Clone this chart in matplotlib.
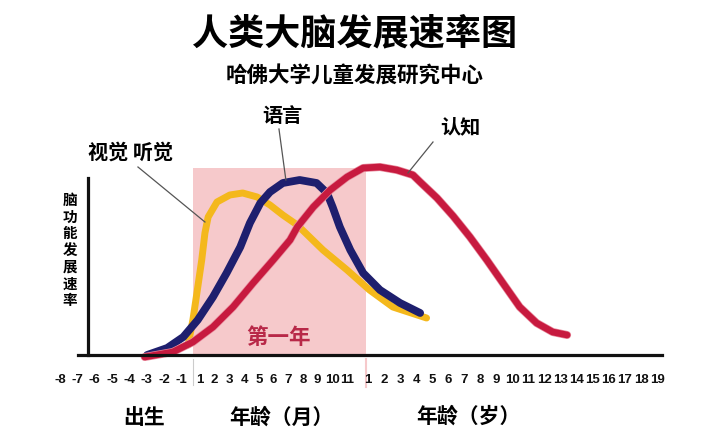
import matplotlib.pyplot as plt
import matplotlib.patheffects as pe
from matplotlib.patches import Rectangle

plt.rcParams['font.family'] = ['Noto Sans CJK SC', 'DejaVu Sans']

# 刻度标签: 孕期(月), 出生后第一年(月), 之后(岁)
prenatal_labels = [-8, -7, -6, -5, -4, -3, -2, -1]
month_labels = list(range(1, 12))
year_labels = list(range(1, 20))

# 曲线数据, x 以"岁"刻度为单位 (第 n 岁在 x=n), y 为发展速率
vision_x = [-10.2, -9.9, -9.65, -9.35, -9.15, -8.95, -8.4, -7.6, -6.8, -5.9,
            -5.1, -4.3, -3.4, -1.8, -0.3, 1.1, 2.55, 4.65]
vision_y = [5, 17.5, 31, 47.5, 61, 69, 76.5, 80, 81, 79,
            75, 70, 65, 52.5, 42.5, 32.5, 24, 18.5]

language_x = [-12.75, -11.5, -10.5, -9.6, -8.65, -7.8, -6.95, -6.35, -5.7, -5.1,
              -4.3, -3.25, -2.2, -1.55, -1.2, -0.75, -0.1, 0.7, 1.75, 3.0, 4.25]
language_y = [0, 3.5, 9, 17.5, 29, 41, 54, 66, 76, 81.5,
              86, 87.5, 86, 81, 74, 64, 52.5, 41, 32.5, 26, 21]

cognition_x = [-12.9, -11.15, -9.9, -8.65, -7.4, -6.15, -4.9, -3.85, -3.4, -2.4,
               -1.35, -0.3, 0.7, 1.75, 2.8, 3.8, 4.25, 5.3, 6.3, 7.35,
               8.4, 9.4, 10.45, 11.5, 12.5, 13.4]
cognition_y = [-1, 1.5, 6.5, 14, 24, 36, 47.5, 57.5, 64, 74,
               82.5, 89, 93.5, 94, 92.5, 90, 86.5, 78.5, 69.5, 59,
               47.5, 36, 24, 16, 11.5, 10]

# 刻度位置
tick_pos = ([-18.18 + 1.0834 * k for k in range(len(prenatal_labels))]
            + [-9.461 + 0.9153 * (m - 1) for m in month_labels]
            + [float(y) for y in year_labels])
tick_text = [str(v) for v in prenatal_labels + month_labels + year_labels]

fig = plt.figure(figsize=(7.2, 4.42), dpi=100)
ax = fig.add_axes([0, 0, 1, 1])
ax.set_xlim(-21.91, 22.92)
ax.set_ylim(-43.5, 177.5)
ax.patch.set_alpha(0)

# 第一年背景
ax.add_patch(Rectangle((-9.9, 0), 10.8, 93.5, color='#F6C9CB', lw=0, zorder=1))
ax.plot([-9.9, -9.9], [-2, -15], color='#cccccc', lw=0.8, zorder=1)
ax.plot([0.9, 0.9], [-2, -16], color='#F6C9CB', lw=1.5, zorder=1)

# 曲线
ax.plot(vision_x, vision_y, color='#F4B81C', lw=5, solid_capstyle='round',
        solid_joinstyle='round', zorder=3)
ax.plot(language_x, language_y, color='#1E1F6E', lw=5.6, solid_capstyle='round',
        solid_joinstyle='round', zorder=4)
ax.plot(cognition_x, cognition_y, color='#C71A3F', lw=4.8, solid_capstyle='round',
        solid_joinstyle='round', zorder=5,
        path_effects=[pe.Stroke(linewidth=5.8, foreground='#E88A9C'), pe.Normal()])

# 坐标轴
for s in ['top', 'right']:
    ax.spines[s].set_visible(False)
ax.spines['left'].set_position(('data', -16.43))
ax.spines['left'].set_bounds(0, 88.5)
ax.spines['bottom'].set_position(('data', 0))
ax.spines['bottom'].set_bounds(-17.06, 19.31)
for s in ['left', 'bottom']:
    ax.spines[s].set_linewidth(2.3)
    ax.spines[s].set_color('#111111')
    ax.spines[s].set_zorder(6)
ax.set_yticks([])
ax.set_xticks(tick_pos)
ax.set_xticklabels(tick_text, fontsize=9.5, fontweight='bold', color='#111111',
                   family='Liberation Sans')
ax.tick_params(axis='x', length=0, pad=14)

# 标注
ax.text(-4.35, 119.5, '语言', fontsize=14.5, fontweight='bold', ha='center', va='center')
ax.plot([-4.54, -4.11], [113, 87.5], color='#555555', lw=0.9, zorder=6)
ax.text(-13.76, 101.5, '视觉 听觉', fontsize=14.5, fontweight='bold', ha='center', va='center')
ax.plot([-13.32, -9.15], [94, 66.5], color='#555555', lw=0.9, zorder=6)
ax.text(6.73, 114, '认知', fontsize=14.5, fontweight='bold', ha='center', va='center')
ax.plot([5.05, 3.49], [106.5, 91], color='#555555', lw=0.9, zorder=6)
ax.text(-4.6, 9, '第一年', fontsize=15.5, fontweight='bold', color='#B82848',
        ha='center', va='center', zorder=2)

# 标题与轴标题
fig.text(355 / 720, 1 - 34 / 442, '人类大脑发展速率图', fontsize=26, fontweight='bold',
         ha='center', va='center')
fig.text(355 / 720, 1 - 75 / 442, '哈佛大学儿童发展研究中心', fontsize=15.5, fontweight='bold',
         ha='center', va='center')
fig.text(70 / 720, 1 - 250 / 442, '\n'.join('脑功能发展速率'), fontsize=10.5,
         fontweight='bold', ha='center', va='center', linespacing=1.05)
fig.text(144 / 720, 1 - 417 / 442, '出生', fontsize=15, fontweight='bold',
         ha='center', va='center')
fig.text(281 / 720, 1 - 417 / 442, '年龄（月）', fontsize=15, fontweight='bold',
         ha='center', va='center')
fig.text(468 / 720, 1 - 416 / 442, '年龄（岁）', fontsize=15, fontweight='bold',
         ha='center', va='center')

fig.savefig('out.png', dpi=100, facecolor='white')
